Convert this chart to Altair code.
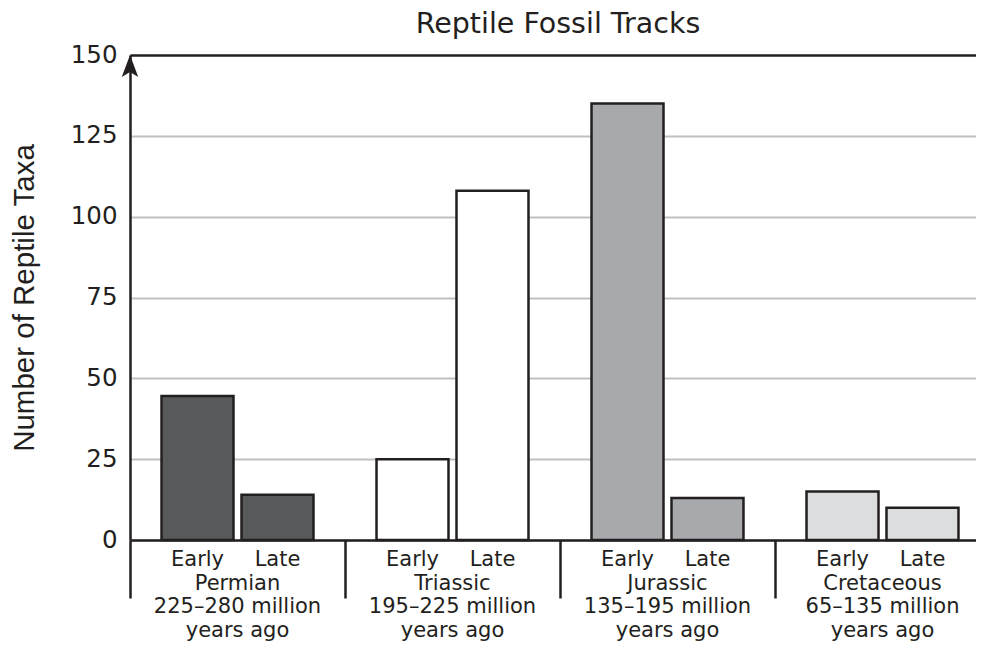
import altair as alt
import pandas as pd

# ---- data ----
periods = ["Permian", "Triassic", "Jurassic", "Cretaceous"]
stages = ["Early", "Late"]
early_values = [44.5, 25, 135, 15]
late_values = [14, 108, 13, 10]
age_ranges = ["225–280 million", "195–225 million", "135–195 million", "65–135 million"]
age_suffix = "years ago"
y_ticks = [0, 25, 50, 75, 100, 125, 150]

# ---- styles ----
INK = "#231f20"
fill_colors = ["#58595b", "#ffffff", "#a7a9ac", "#dcddde"]
GRID = "#bfc0c2"

rows = []
for p, e, l in zip(periods, early_values, late_values):
    rows.append({"period": p, "stage": stages[0], "value": e})
    rows.append({"period": p, "stage": stages[1], "value": l})
bars_df = pd.DataFrame(rows)
labels_df = pd.DataFrame({
    "period": periods,
    "label": [f"{p}\n{r}\n{age_suffix}" for p, r in zip(periods, age_ranges)],
})

x_enc = alt.X(
    "period:N",
    sort=periods,
    scale=alt.Scale(domain=periods, range=[0, 860], paddingInner=0, paddingOuter=0),
    axis=alt.Axis(
        title=None, labels=False, grid=False,
        domainColor=INK, domainWidth=2.5,
        ticks=True, tickColor=INK, tickWidth=2.5, tickSize=58, bandPosition=0,
    ),
)
xoff_enc = alt.XOffset("stage:N", sort=stages,
                       scale=alt.Scale(domain=stages, paddingInner=0.1, paddingOuter=0.394))

y_enc = alt.Y(
    "value:Q",
    scale=alt.Scale(domain=[0, 150], nice=False, zero=True),
    axis=alt.Axis(
        values=y_ticks, title="Number of Reptile Taxa",
        titleFont="Liberation Sans", titleFontSize=29.5, titleFontWeight="normal",
        titleColor=INK, titlePadding=31,
        labelFont="DejaVu Sans", labelFontSize=24.5, labelColor=INK, labelPadding=13,
        labelFlush=False,
        ticks=False, domainColor=INK, domainWidth=2.5,
        grid=True,
        gridColor={"condition": {"test": "datum.value === 150", "value": INK}, "value": GRID},
        gridWidth={"condition": {"test": "datum.value === 150", "value": 2.5}, "value": 2},
        gridOpacity=1,
    ),
)

bars = alt.Chart(bars_df).mark_bar(stroke=INK, strokeWidth=2.5).encode(
    x=x_enc,
    xOffset=xoff_enc,
    y=y_enc,
    fill=alt.Fill("period:N", scale=alt.Scale(domain=periods, range=fill_colors), legend=None),
)

stage_text = alt.Chart(bars_df).mark_text(
    font="DejaVu Sans", fontSize=21, color=INK, baseline="alphabetic", align="center"
).encode(
    x=x_enc,
    xOffset=xoff_enc,
    text="stage:N",
    y=alt.value(511),
)

period_text = alt.Chart(labels_df).mark_text(
    font="DejaVu Sans", fontSize=21, color=INK, baseline="alphabetic", align="center",
    lineBreak="\n", lineHeight=23.3,
).encode(
    x=x_enc,
    text="label:N",
    y=alt.value(535),
)

arrow = alt.Chart(pd.DataFrame({"a": [0]})).mark_point(
    shape="M0,-1L0.75,1L0,0.55L-0.75,1Z", filled=True, size=484,
    color=INK, opacity=1, strokeWidth=0,
).encode(x=alt.value(0), y=alt.value(11))

chart = alt.layer(bars, stage_text, period_text, arrow).properties(
    width=846,
    height=485,
    padding={"left": 122, "top": 47, "right": 0, "bottom": 101},
    autosize=alt.AutoSizeParams(type="none"),
    title=alt.Title(
        "Reptile Fossil Tracks", font="DejaVu Sans", fontSize=28.5, fontWeight="normal",
        color=INK, anchor="middle", frame="group", baseline="alphabetic", offset=24, dx=5, dy=43,
    ),
).configure_view(stroke=None).configure(background="white")

chart.save("out.html", embed_options={"renderer": "svg", "actions": False})
